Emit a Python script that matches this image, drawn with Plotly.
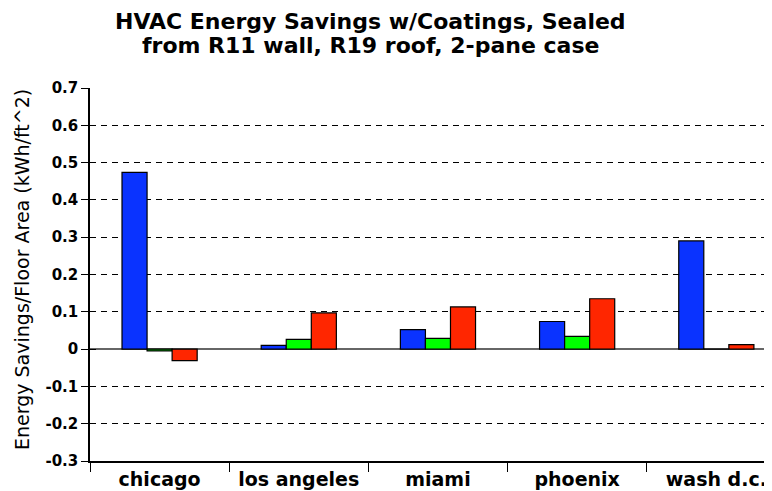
import plotly.graph_objects as go

categories = ["chicago", "los angeles", "miami", "phoenix", "wash d.c."]
series_names = ["Series 1", "Series 2", "Series 3"]
blue_vals = [0.474, 0.010, 0.052, 0.074, 0.290]
green_vals = [-0.005, 0.026, 0.029, 0.034, 0.0]
red_vals = [-0.031, 0.097, 0.113, 0.135, 0.012]
colors = ["#0A33FF", "#00FF00", "#FF2600"]
y_ticks = [-0.3, -0.2, -0.1, 0, 0.1, 0.2, 0.3, 0.4, 0.5, 0.6, 0.7]
y_tick_text = ["-0.3", "-0.2", "-0.1", "0", "0.1", "0.2", "0.3", "0.4", "0.5", "0.6", "0.7"]
title_lines = ["HVAC Energy Savings w/Coatings, Sealed", "from R11 wall, R19 roof, 2-pane case"]
y_title = "Energy Savings/Floor Area (kWh/ft^2)"

# page body has an 8px margin; figure sized so the visible window matches
W, H = 764, 483
L, T, B = 82, 80, 30
plot_h = H - T - B
plot_w = W - L

def py(fig_y):
    return (H - B - fig_y) / plot_h

def px(fig_x):
    return (fig_x - L) / plot_w

fig = go.Figure()
for name, vals, col in zip(series_names, [blue_vals, green_vals, red_vals], colors):
    fig.add_trace(go.Bar(
        x=categories, y=vals, name=name,
        marker=dict(color=col, line=dict(color="black", width=1.2)),
    ))

fig.update_layout(
    width=W, height=H,
    barmode="group", bargap=0.46, bargroupgap=0,
    showlegend=False,
    plot_bgcolor="white", paper_bgcolor="white",
    margin=dict(l=L, r=0, t=T, b=B),
    font=dict(family="DejaVu Sans, sans-serif", color="black"),
)

title_font = dict(family="DejaVu Sans", size=22, color="black")
for line, fy in zip(title_lines, [13, 38]):
    fig.add_annotation(
        text="<b>%s</b>" % line, xref="paper", yref="paper",
        x=px(362.5), y=py(fy), xanchor="center", yanchor="middle",
        showarrow=False, font=title_font,
    )
fig.add_annotation(
    text=y_title, xref="paper", yref="paper", textangle=-90,
    x=px(14), y=py(262), xanchor="center", yanchor="middle",
    showarrow=False, font=dict(family="DejaVu Sans", size=19, color="black"),
)

fig.update_xaxes(
    range=[-0.5, 4.4],
    showline=True, linecolor="black", linewidth=2,
    ticks="outside", tickson="boundaries", ticklen=9, tickcolor="black", tickwidth=1.2,
    showgrid=False, automargin=False,
    tickfont=dict(family="DejaVu Sans", size=19, weight="bold"),
)
fig.update_yaxes(
    range=[-0.3, 0.7],
    tickvals=y_ticks, ticktext=y_tick_text,
    showline=True, linecolor="black", linewidth=1.5,
    ticks="outside", ticklen=7, tickcolor="black", tickwidth=1.2,
    showgrid=True, gridcolor="black", gridwidth=1, griddash="6px,5px",
    zeroline=True, zerolinecolor="#666666", zerolinewidth=2,
    tickfont=dict(family="DejaVu Sans", size=15, weight="bold"),
    automargin=False,
)
fig.update_layout(
    yaxis2=dict(
        overlaying="y", side="left", range=[-0.3, 0.7], tickvals=y_ticks,
        showticklabels=False, ticks="inside", ticklen=6, tickcolor="black", tickwidth=1.2,
        showgrid=False, zeroline=False, showline=False,
    ),
)
fig.add_trace(go.Scatter(x=[categories[0]], y=[0], yaxis="y2", mode="markers",
                         marker=dict(opacity=0), hoverinfo="skip", showlegend=False))

fig.write_html("out.html")
